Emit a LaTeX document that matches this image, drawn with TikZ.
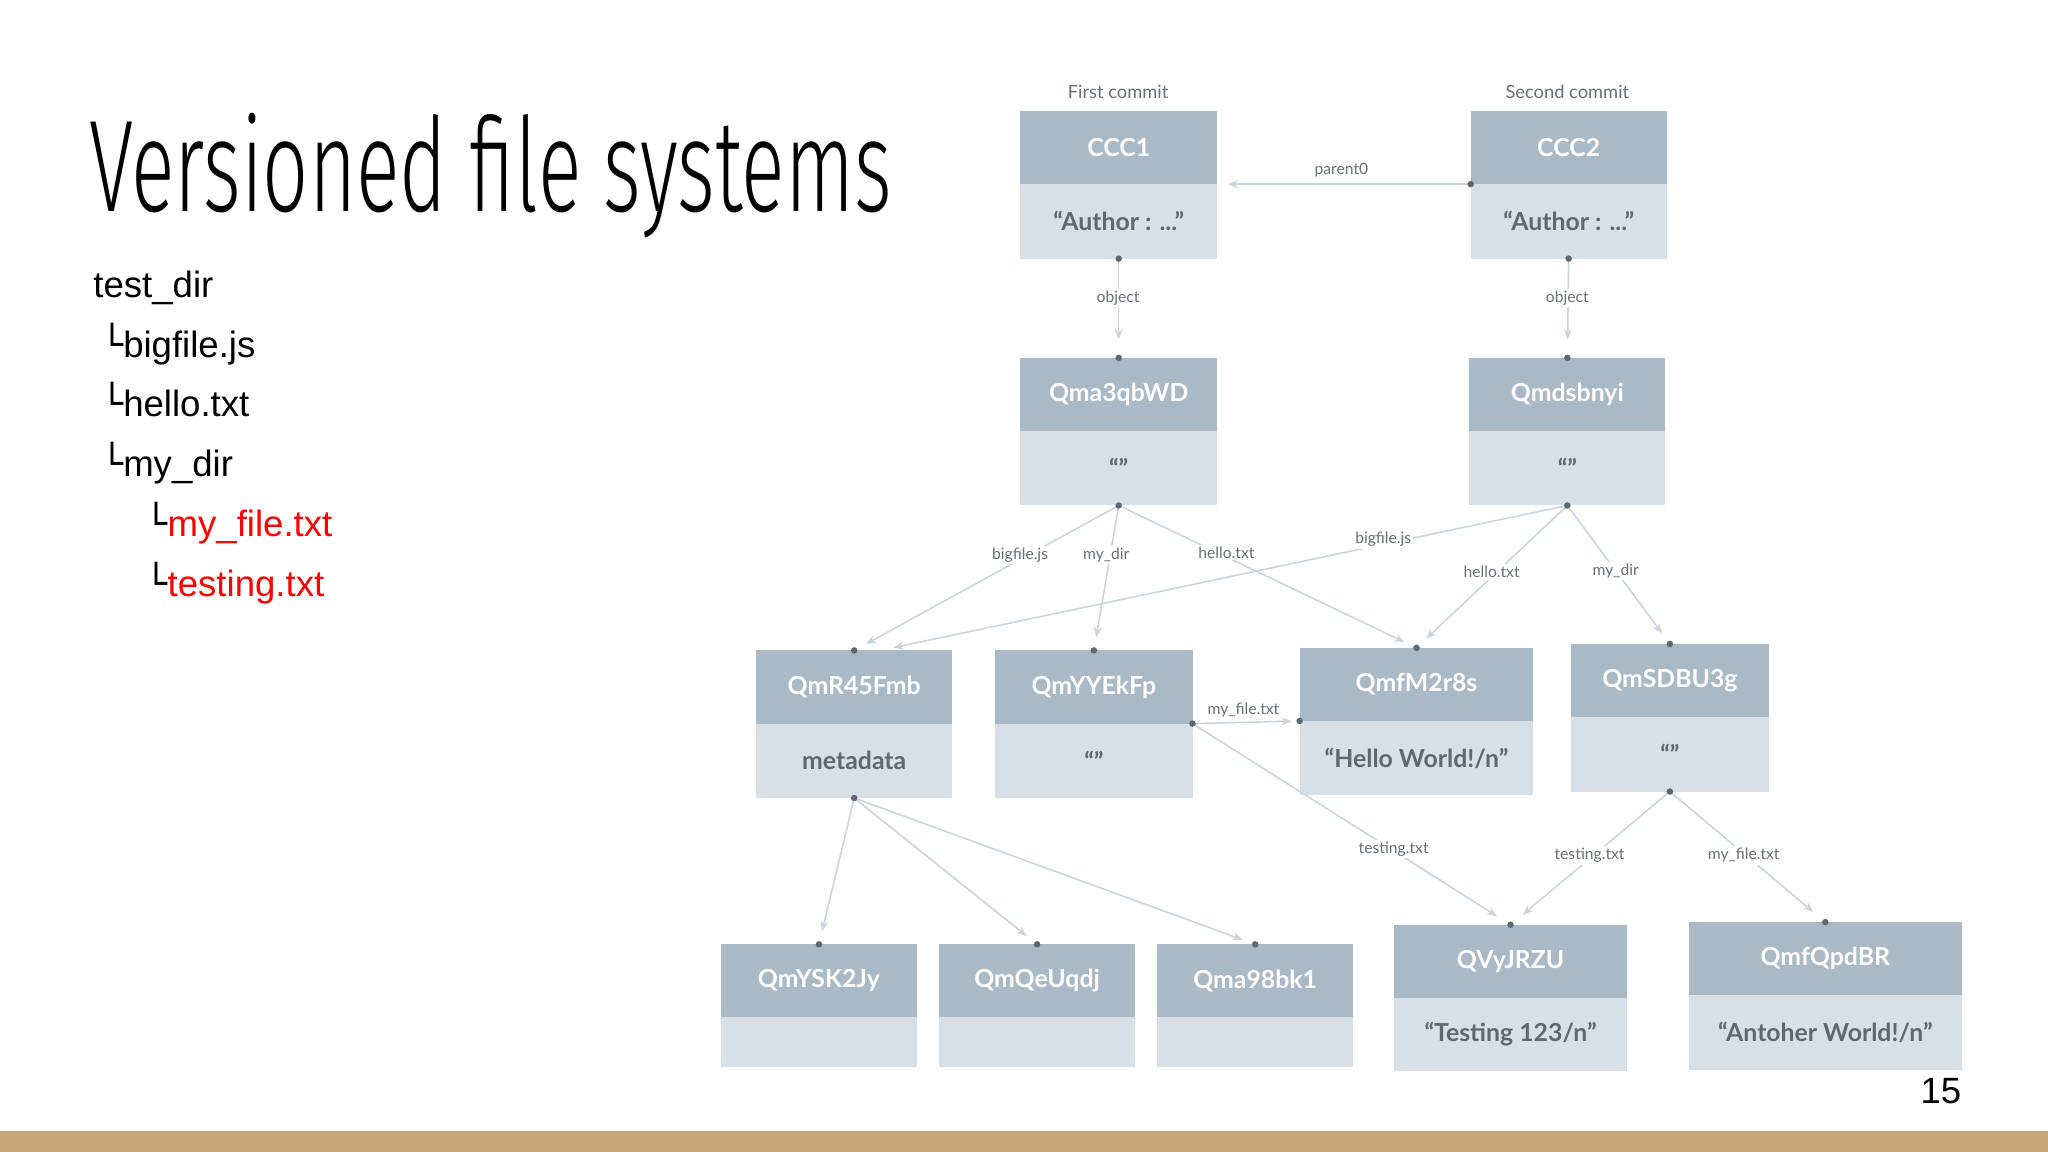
\documentclass[tikz,border=0pt]{standalone}
\usepackage{fontspec}
\setmainfont{Liberation Sans}
\newfontfamily\boxfont{Lato}
\newfontfamily\titlefont{Fira Sans Light}
\newfontfamily\dvs{DejaVu Sans}
\usetikzlibrary{arrows.meta}
\definecolor{topc}{HTML}{A9B9C6}
\definecolor{botc}{HTML}{D8E0E7}
\definecolor{btxt}{HTML}{5E6872}
\definecolor{edgec}{HTML}{CBD4DC}
\definecolor{lblc}{HTML}{6A6F75}
\definecolor{tan}{HTML}{C9A67C}
\begin{document}
\begin{tikzpicture}[x=1pt,y=-1pt,
  lbl/.style={fill=white,inner sep=1.5pt,text=lblc,font=\boxfont\fontsize{12}{12}\selectfont},
  edge/.style={draw=edgec,line width=1.2pt,-{Stealth[length=8pt,width=6pt,fill=edgec]}},
  dotc/.style={circle,fill=btxt,inner sep=0pt,minimum size=5pt},
  tree/.style={anchor=base west,font=\fontsize{28}{28}\selectfont}]
\useasboundingbox (0,0) rectangle (1568,882);
\fill[white] (0,0) rectangle (1568,882);
% title and tree
\node[anchor=base west,inner sep=0] (title) at (68,162) {\titlefont\fontsize{100}{100}\selectfont\scalebox{0.62}[1]{Versioned file systems}};
\node[tree] (t0) at (68,228) {test\_dir};
\node[tree] (t1) at (74,274) {{\dvs └}bigfile.js};
\node[tree] (t2) at (74,319) {{\dvs └}hello.txt};
\node[tree] (t3) at (74,365) {{\dvs └}my\_dir};
\node[tree] (t4) at (108,411) {{\dvs └}\textcolor{red}{my\_file.txt}};
\node[tree] (t5) at (108,457) {{\dvs └}\textcolor{red}{testing.txt}};
% boxes: name, x1,x2,ytop,ymid,ybot,title,content
\newcommand\mybox[8]{%
  \fill[topc] (#2,#4) rectangle (#3,#5);
  \fill[botc] (#2,#5) rectangle (#3,#6);
  \node[text=white,font=\boxfont\bfseries\fontsize{19}{19}\selectfont] (#1h) at ({(#2+#3)/2},{(#4+#5)/2}) {#7};
  \node[text=btxt,font=\boxfont\bfseries\fontsize{19}{19}\selectfont] (#1b) at ({(#2+#3)/2},{(#5+#6)/2}) {#8};
  \coordinate (#1T) at ({(#2+#3)/2},#4);
  \coordinate (#1B) at ({(#2+#3)/2},#6);
  \coordinate (#1L) at (#2,#5);
  \coordinate (#1R) at (#3,#5);}
\mybox{c1}{781}{932}{85}{141}{198}{CCC1}{“Author : ...”}
\mybox{c2}{1126}{1276}{85}{141}{198}{CCC2}{“Author : ...”}
\mybox{qa}{781}{932}{274}{330}{387}{Qma3qbWD}{“”}
\mybox{qd}{1125}{1275}{274}{330}{387}{Qmdsbnyi}{“”}
\mybox{qr}{579}{729}{498}{554}{611}{QmR45Fmb}{metadata}
\mybox{qy}{762}{913}{498}{554}{611}{QmYYEkFp}{“”}
\mybox{qf}{995}{1174}{496}{552}{609}{QmfM2r8s}{“Hello World!/n”}
\mybox{qs}{1203}{1354}{493}{549}{606}{QmSDBU3g}{“”}
\mybox{k1}{552}{702}{723}{779}{817}{QmYSK2Jy}{}
\mybox{k2}{719}{869}{723}{779}{817}{QmQeUqdj}{}
\mybox{k3}{886}{1036}{723}{779}{817}{Qma98bk1}{}
\mybox{qv}{1067}{1246}{708}{764}{820}{QVyJRZU}{“Testing 123/n”}
\mybox{qq}{1293}{1502}{706}{762}{819}{QmfQpdBR}{“Antoher World!/n”}
\node[text=lblc,font=\boxfont\fontsize{14}{14}\selectfont] (fc) at (856,70) {First commit};
\node[text=lblc,font=\boxfont\fontsize{14}{14}\selectfont] (sc) at (1200,70) {Second commit};
% edges
\draw[edge,shorten >=3pt] (c2L) -- ([xshift=5pt]c1R);
\draw[edge,shorten >=14pt] (c1B) -- (qaT);
\draw[edge,shorten >=14pt] (c2B) -- (qdT);
\draw[edge,shorten >=10pt] (qaB) -- (qrT);
\draw[edge,shorten >=10pt] (qaB) -- (qyT);
\draw[edge,shorten >=10pt] (qaB) -- (qfT);
\draw[edge,shorten >=10pt] (qdB) -- ([xshift=20pt]qrT);
\draw[edge,shorten >=10pt] (qdB) -- (qfT);
\draw[edge,shorten >=10pt] (qdB) -- (qsT);
\draw[edge,shorten >=6pt] (qyR) -- (qfL);
\draw[edge,shorten >=12pt] (qyR) -- (qvT);
\draw[edge,shorten >=12pt] (qsB) -- (qvT);
\draw[edge,shorten >=12pt] (qsB) -- (qqT);
\draw[edge,shorten >=10pt] (qrB) -- (k1T);
\draw[edge,shorten >=10pt] (qrB) -- (k2T);
\draw[edge,shorten >=10pt] (qrB) -- (k3T);
% labels
\node[lbl] (l1) at (1027,130) {parent0};
\node[lbl] (l2) at (856,228) {object};
\node[lbl] (l3) at (1200,228) {object};
\node[lbl] (l4) at (781,425) {bigfile.js};
\node[lbl] (l5) at (847,425) {my\_dir};
\node[lbl] (l6) at (939,423) {hello.txt};
\node[lbl] (l7) at (1059,413) {bigfile.js};
\node[lbl] (l8) at (1142,438) {hello.txt};
\node[lbl] (l9) at (1237,437) {my\_dir};
\node[lbl] (l10) at (952,544) {my\_file.txt};
\node[lbl] (l11) at (1067,650) {testing.txt};
\node[lbl] (l12) at (1217,655) {testing.txt};
\node[lbl] (l13) at (1335,655) {my\_file.txt};
% dots
\foreach \p in {c1B,c2L,c2B,qaT,qdT,qaB,qdB,qrT,qyT,qfT,qsT,qyR,qfL,qsB,qvT,qqT,qrB,k1T,k2T,k3T}
  \node[dotc] at (\p) {};
% footer
\fill[tan] (0,866) rectangle (1568,882);
\node[font=\fontsize{28}{28}\selectfont] (pg) at (1486,835) {15};
\end{tikzpicture}
\end{document}
